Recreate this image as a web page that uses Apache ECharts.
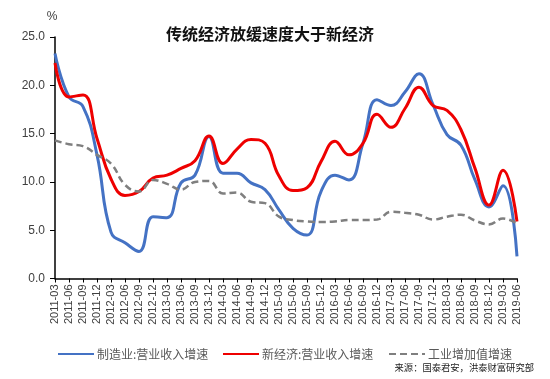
<!DOCTYPE html>
<html>
<head>
<meta charset="utf-8">
<script src="https://cdn.jsdelivr.net/npm/echarts@6/dist/echarts.min.js"></script>
<style>html,body{margin:0;padding:0;background:#fff;}#c{width:550px;height:379px;}</style>
</head>
<body>
<div id="c"></div>
<script>
var categories = ['2011-03','2011-06','2011-09','2011-12','2012-03','2012-06','2012-09','2012-12',
  '2013-03','2013-06','2013-09','2013-12','2014-03','2014-06','2014-09','2014-12',
  '2015-03','2015-06','2015-09','2015-12','2016-03','2016-06','2016-09','2016-12',
  '2017-03','2017-06','2017-09','2017-12','2018-03','2018-06','2018-09','2018-12',
  '2019-03','2019-06'];
var manufacturing = [23.3, 18.8, 17.8, 12.8, 4.8, 3.7, 2.8, 6.4, 6.3, 9.9, 10.7, 14.7, 10.9, 10.9, 9.9, 9.2,
  7.1, 5.2, 4.5, 9.0, 10.7, 10.2, 14.0, 18.5, 17.9, 19.3, 21.2, 18.0, 14.9, 13.8, 10.2, 7.4, 9.6, 2.3];
var newEconomy = [22.3, 18.8, 19.0, 14.5, 10.3, 8.6, 9.0, 10.4, 10.7, 11.4, 12.2, 14.75, 11.9, 13.4, 14.4, 14.0,
  10.6, 9.1, 9.4, 12.1, 14.2, 12.8, 14.0, 17.0, 15.65, 17.6, 19.8, 17.9, 17.4, 15.4, 11.4, 7.6, 11.2, 5.9];
var industrialVA = [14.3, 13.9, 13.7, 12.8, 11.9, 9.7, 9.0, 10.2, 9.8, 9.2, 10.0, 10.1, 8.8, 8.9, 7.95, 7.8,
  6.4, 6.05, 5.9, 5.85, 5.9, 6.05, 6.05, 6.1, 6.9, 6.8, 6.6, 6.1, 6.4, 6.6, 6.0, 5.6, 6.2, 5.7];
var seriesNames = ['制造业:营业收入增速', '新经济:营业收入增速', '工业增加值增速'];
var titleText = '传统经济放缓速度大于新经济';
var sourceText = '来源：国泰君安，洪泰财富研究部';

var legendLefts = [52, 217, 383];
var legendCommon = {
  top: 343, itemWidth: 36, itemHeight: 10,
  itemStyle: {opacity: 0},
  textStyle: {fontFamily: 'Noto Sans CJK SC', fontSize: 12, color: '#595959', padding: [0, 0, 0, -2]}
};
var legends = seriesNames.map(function (n, i) {
  return Object.assign({}, legendCommon, {left: legendLefts[i], data: [n]});
});

var chart = echarts.init(document.getElementById('c'), null, {renderer: 'canvas'});
chart.setOption({
  animation: false,
  backgroundColor: '#fff',
  title: {
    text: titleText, left: 265, top: 21, textAlign: 'center',
    textStyle: {fontFamily: 'Noto Sans CJK SC', fontSize: 16, fontWeight: 'bold', color: '#111'}
  },
  graphic: [{
    type: 'text', right: 16, top: 363,
    style: {text: sourceText, font: '9.3px "Noto Sans CJK SC"', fill: '#222'}
  }],
  legend: legends,
  grid: {left: 55, right: 33, top: 37, bottom: 100.5, containLabel: false},
  xAxis: {
    type: 'category', data: categories, boundaryGap: false,
    axisLine: {lineStyle: {color: '#000', width: 1.5}},
    axisTick: {show: true, length: 4, lineStyle: {color: '#000'}},
    axisLabel: {interval: 0, rotate: 90, fontSize: 11, color: '#404040', fontFamily: 'Liberation Sans', margin: 6}
  },
  yAxis: {
    type: 'value', min: 0, max: 25, interval: 5,
    name: '%', nameLocation: 'end', nameGap: 14,
    nameTextStyle: {fontSize: 12, color: '#404040', fontFamily: 'Liberation Sans', padding: [0, 6, 0, 0]},
    splitLine: {show: false},
    axisLine: {show: true, lineStyle: {color: '#000', width: 1.5}},
    axisTick: {show: true, length: 5, lineStyle: {color: '#000'}},
    axisLabel: {fontSize: 12, color: '#404040', fontFamily: 'Liberation Sans', margin: 10,
      formatter: function (v) { return v.toFixed(1); }}
  },
  series: [
    {name: seriesNames[0], type: 'line', data: manufacturing, smooth: 0.45, symbol: 'none',
      lineStyle: {color: '#4472C4', width: 3}, itemStyle: {color: '#4472C4'}},
    {name: seriesNames[1], type: 'line', data: newEconomy, smooth: 0.45, symbol: 'none',
      lineStyle: {color: '#EE0000', width: 3}, itemStyle: {color: '#EE0000'}},
    {name: seriesNames[2], type: 'line', data: industrialVA, smooth: 0.45, symbol: 'none',
      lineStyle: {color: '#7F7F7F', width: 2.5, type: [7, 4]}, itemStyle: {color: '#7F7F7F'}}
  ]
});
</script>
</body>
</html>
